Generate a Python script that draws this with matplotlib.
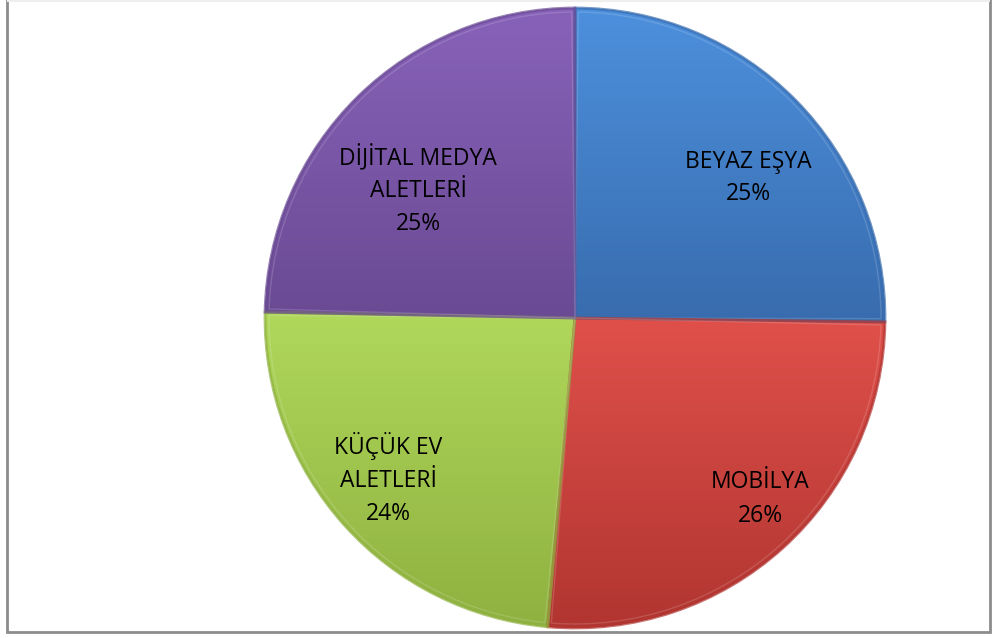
#!/usr/bin/env python

import matplotlib.pyplot as plt
import numpy as np
from matplotlib.colors import to_rgb
from matplotlib.patches import Rectangle, Wedge

"""
Pie chart of sales shares by product group (Excel-style glossy pie)
"""

categories = ["BEYAZ EŞYA", "MOBİLYA", "KÜÇÜK EV\nALETLERİ", "DİJİTAL MEDYA\nALETLERİ"]
shares = [25.2, 26.2, 23.9, 24.7]
shown_pct = [25, 26, 24, 25]

# top / bottom colours of each slice gradient
top_colors = ["#4d90dd", "#e0504a", "#b0d85b", "#8862b9"]
bottom_colors = ["#386cae", "#b13531", "#8fb140", "#6a4a93"]

# label anchor points in pixels (x, y from top)
label_px = [(748, 178), (760, 499), (388, 479), (418, 190)]

W, H = 994, 638
CENTER = (575, H - 318)
RADIUS = 310


def shade_wedge(ax, wedge, c_top, c_bot):
    ext = wedge.get_path().get_extents()
    t = np.linspace(0, 1, 256)[:, None]
    top = np.array(to_rgb(c_top))
    bot = np.array(to_rgb(c_bot))
    img = bot[None, None, :] * (1 - t[..., None]) + top[None, None, :] * t[..., None]
    img = np.repeat(img, 2, axis=1)
    im = ax.imshow(img, extent=(ext.x0, ext.x1, ext.y0, ext.y1), origin="lower",
                   interpolation="bilinear", aspect="auto", zorder=2)
    im.set_clip_path(wedge)


def main():
    fig = plt.figure(figsize=(W / 100, H / 100), dpi=100)
    ax = fig.add_axes([0, 0, 1, 1])

    wedges, _ = ax.pie(shares, startangle=90, counterclock=False, center=CENTER,
                       radius=RADIUS, colors=bottom_colors, frame=True,
                       wedgeprops=dict(linewidth=0, zorder=1))
    ax.set_xlim(0, W)
    ax.set_ylim(0, H)
    ax.set_aspect("equal")
    ax.axis("off")

    for w, ct, cb in zip(wedges, top_colors, bottom_colors):
        shade_wedge(ax, w, ct, cb)
        # dark bevel rim
        ax.add_patch(Wedge(w.center, w.r, w.theta1, w.theta2, fill=False,
                           edgecolor=cb, lw=2.0, alpha=0.7, zorder=3))
        # soft inner highlight
        ax.add_patch(Wedge(w.center, w.r - 4, w.theta1 + 0.6, w.theta2 - 0.6, fill=False,
                           edgecolor="white", lw=1.0, alpha=0.15, zorder=3))

    for name, pct, (px, py) in zip(categories, shown_pct, label_px):
        ax.text(px, H - py, f"{name}\n{pct}%", ha="center", va="center",
                fontsize=16.5, family="Open Sans", color="black",
                linespacing=1.5, zorder=5)

    # chart border
    fig.patches.append(Rectangle((7 / W, 6 / H), 983 / W, (H - 6) / H,
                                 transform=fig.transFigure, fill=False,
                                 edgecolor="#8c8c8c", lw=2))
    fig.patches.append(Rectangle((7 / W, (H - 1) / H), 983 / W, 0,
                                 transform=fig.transFigure, fill=False,
                                 edgecolor="#eeeeee", lw=1.5))

    plt.savefig("out.png", dpi=100)


if __name__ == "__main__":
    main()
